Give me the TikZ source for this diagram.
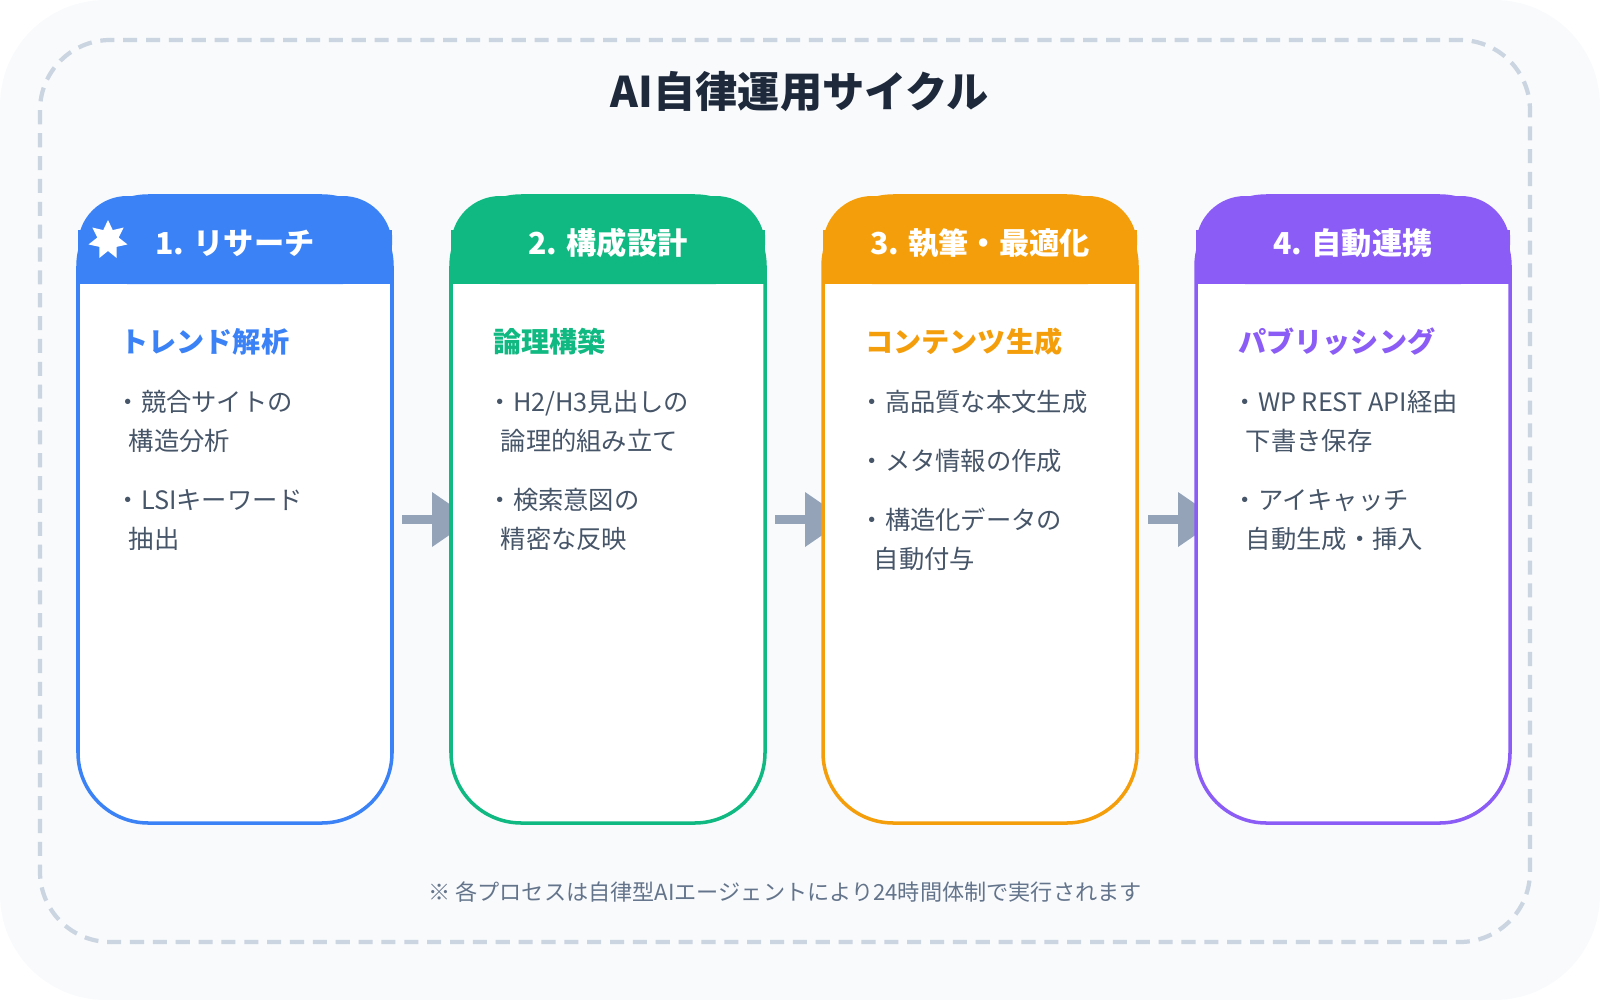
\documentclass[tikz,border=0pt]{standalone}
\usepackage{fontspec}
\setmainfont{Noto Sans CJK JP}
\definecolor{bg}{HTML}{F8FAFC}
\definecolor{dashc}{HTML}{CBD5E1}
\definecolor{cA}{HTML}{3B82F6}
\definecolor{cB}{HTML}{10B981}
\definecolor{cC}{HTML}{F59E0B}
\definecolor{cD}{HTML}{8B5CF6}
\definecolor{ttl}{HTML}{1E293B}
\definecolor{itm}{HTML}{475569}
\definecolor{ftr}{HTML}{64748B}
\definecolor{arr}{HTML}{94A3B8}
\begin{document}
\begin{tikzpicture}[x=0.01cm,y=-0.01cm,
  hd/.style={font=\fontsize{8.6pt}{10pt}\selectfont\bfseries,text=white},
  sub/.style={anchor=base west,font=\fontsize{8pt}{10pt}\selectfont\bfseries},
  it/.style={anchor=base west,font=\fontsize{7.2pt}{9pt}\selectfont,text=itm,inner sep=0pt}]
\useasboundingbox (0,0) rectangle (1600,1000);
\fill[bg,rounded corners=30] (0,0) rectangle (1600,1000);
\draw[dashc,line width=1.2pt,dash pattern=on 4pt off 2.5pt,rounded corners=20] (40,40) rectangle (1530,942);
\node[font=\fontsize{12pt}{14pt}\selectfont\bfseries,text=ttl] (title) at (800,92) {AI自律運用サイクル};
% arrows
\foreach \x in {402,775,1148}{
  \fill[arr] (\x,515) rectangle (\x+32,524);
  \fill[arr] (\x+30,492) -- (\x+70,519.5) -- (\x+30,547) -- cycle;
}
% boxes
\foreach \c/\x/\n in {cA/78/A,cB/451/B,cC/823/C,cD/1196/D}{
  \fill[white,rounded corners=20] (\x,196) rectangle (\x+314,823);
  \fill[\c,rounded corners=14] (\x,196) -- (\x+314,196) -- (\x+314,284) -- (\x,284) -- cycle;
  \fill[\c] (\x,230) rectangle (\x+314,284);
  \draw[\c,line width=1pt,rounded corners=20] (\x,196) rectangle (\x+314,823);
  \coordinate (box\n) at (\x,0);
}
\node[hd] (h1) at (235,243) {1. リサーチ};
\node[hd] (h2) at (608,243) {2. 構成設計};
\node[hd] (h3) at (980,243) {3. 執筆・最適化};
\node[hd] (h4) at (1353,243) {4. 自動連携};
\fill[white] plot[samples=15,domain=0:14] ({108+ifthenelse(mod(\x,2)==0,20,11)*sin(\x*360/14)},{240-ifthenelse(mod(\x,2)==0,20,11)*cos(\x*360/14)}) -- cycle;
% column 1
\node[sub,text=cA] (s1) at (108,352) {トレンド解析};
\node[it] (a1) at (115,411) {・競合サイトの};
\node[it] (a2) at (128,450) {構造分析};
\node[it] (a3) at (115,509) {・LSIキーワード};
\node[it] (a4) at (128,548) {抽出};
% column 2
\node[sub,text=cB] (s2) at (481,352) {論理構築};
\node[it] (b1) at (487,411) {・H2/H3見出しの};
\node[it] (b2) at (500,450) {論理的組み立て};
\node[it] (b3) at (487,509) {・検索意図の};
\node[it] (b4) at (500,548) {精密な反映};
% column 3
\node[sub,text=cC] (s3) at (853,352) {コンテンツ生成};
\node[it] (c1) at (859,411) {・高品質な本文生成};
\node[it] (c2) at (859,470) {・メタ情報の作成};
\node[it] (c3) at (859,529) {・構造化データの};
\node[it] (c4) at (873,568) {自動付与};
% column 4
\node[sub,text=cD] (s4) at (1226,352) {パブリッシング};
\node[it] (d1) at (1232,411) {・WP REST API経由};
\node[it] (d2) at (1245,450) {下書き保存};
\node[it] (d3) at (1232,509) {・アイキャッチ};
\node[it] (d4) at (1245,548) {自動生成・挿入};
\node[font=\fontsize{6.3pt}{8pt}\selectfont,text=ftr] (foot) at (785,892) {※ 各プロセスは自律型AIエージェントにより24時間体制で実行されます};
\end{tikzpicture}
\end{document}
